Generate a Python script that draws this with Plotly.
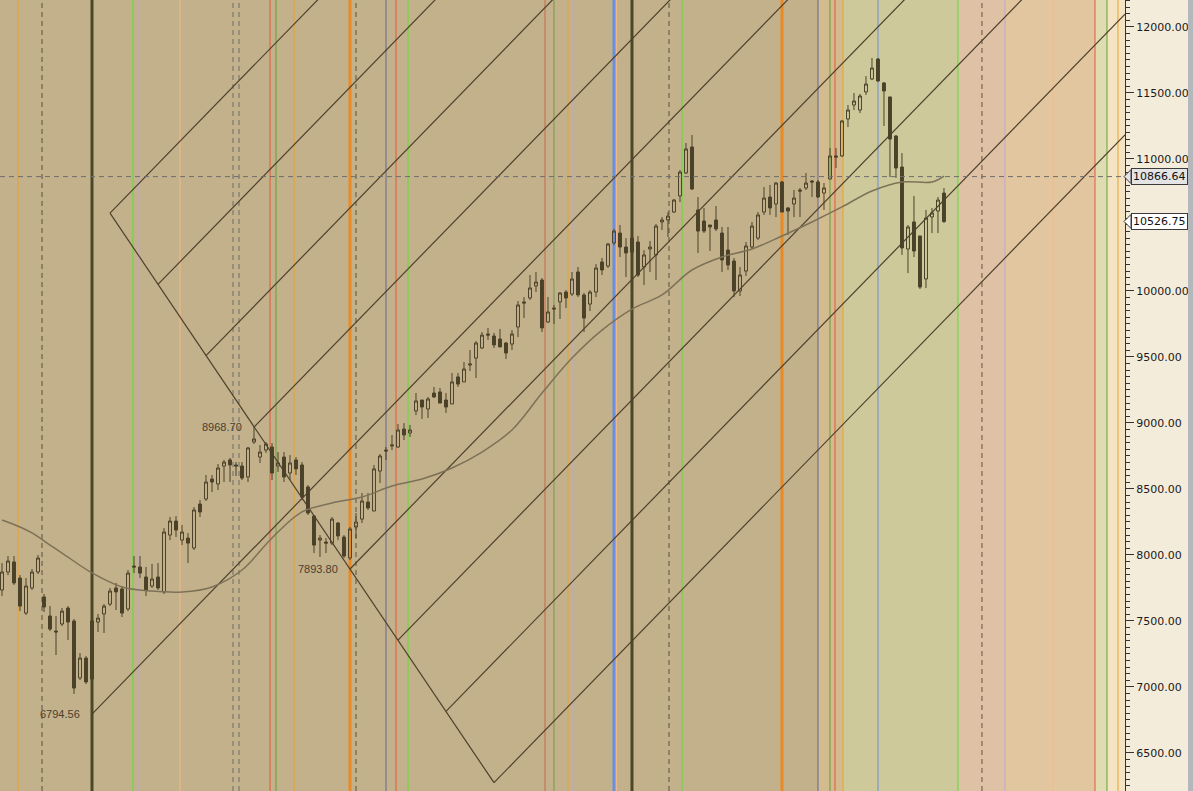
import plotly.graph_objects as go

# ---------------- data ----------------
opens = [7735,7871,7947,7825,7560,7750,7871,7682,7538,7424,
7477,7598,7500,7068,7219,7060,7492,7553,7628,7750,
7742,7591,7916,7909,7833,7765,7833,7720,8151,8257,
8113,8128,8053,8386,8424,8575,8538,8674,8720,8682,
8674,8591,8856,8742,8795,8818,8674,8742,8621,8720,
8682,8515,8295,8113,8098,8090,8242,8136,7977,8212,
8272,8401,8333,8636,8795,8826,8818,8954,8924,9091,
9174,9106,9227,9235,9174,9144,9349,9311,9439,9492,
9568,9674,9659,9636,9606,9598,9727,9917,9947,10038,
10083,9765,9871,9917,9992,9977,10144,9970,9901,9992,
10220,10189,10364,10439,10333,10295,10371,10182,10318,10273,
10523,10538,10598,10720,10894,11091,10614,10530,10500,10538,
10439,10310,10227,10000,10151,10333,10401,10598,10712,10659,
10826,10629,10659,10765,10780,10833,10826,10742,10848,11023,
11023,11303,11409,11371,11508,11606,11757,11576,11470,11174,
10939,10318,10523,10417,10091,10561,10606,10742]

highs = [7939,7992,7992,7848,7825,7894,8000,7705,7613,7538,
7598,7613,7515,7257,7235,7522,7553,7628,7750,7788,
7765,7886,7992,7992,7909,7932,7939,8204,8288,8295,
8227,8166,8363,8416,8606,8606,8689,8720,8735,8704,
8704,8818,8968.70,8833,8856,8848,8780,8780,8757,8742,
8704,8530,8303,8151,8128,8288,8250,8151,8212,8318,
8470,8470,8682,8765,8818,8909,8992,8999,8985,9227,
9174,9197,9273,9265,9227,9379,9379,9462,9553,9621,
9689,9720,9682,9712,9613,9704,9924,9954,10121,10144,
10098,9954,9894,9992,10007,10144,10182,9985,10007,10204,
10250,10364,10470,10500,10401,10416,10416,10310,10379,10508,
10560,10598,10697,10917,11121,11182,10712,10629,10500,10644,
10485,10485,10250,10182,10371,10523,10598,10788,10803,10826,
10833,10636,10765,10780,10894,10841,10841,10818,11083,11083,
11295,11409,11500,11493,11629,11765,11765,11583,11470,11182,
11045,10500,10720,10417,10614,10629,10712,10780]

lows = [7690,7848,7773,7575,7545,7735,7856,7568,7424,7242,
7462,7356,6947,7053,7022,7045,7417,7409,7613,7583,
7530,7575,7863,7825,7690,7750,7735,7705,8113,8136,
8075,7939,8038,8288,8409,8477,8492,8553,8553,8598,
8568,8553,8841,8697,8773,8568,8629,8553,8568,8606,
8416,8303,8015,7985,8015,8075,8113,7977,7962,8128,
8242,8341,8333,8545,8720,8795,8811,8871,8894,9060,
9030,9038,9189,9151,9076,9144,9273,9311,9394,9341,
9560,9629,9568,9576,9485,9553,9651,9795,9932,9992,
9689,9757,9750,9788,9871,9962,9954,9689,9848,9954,
10121,10174,10348,10257,10106,10265,10106,10045,10144,10083,
10462,10409,10591,10674,10886,10765,10288,10439,10303,10454,
10144,10159,9954,9962,10114,10318,10386,10576,10576,10560,
10598,10424,10560,10560,10765,10712,10704,10614,10848,10932,
11015,11242,11371,11348,11485,11598,11583,11250,10863,10856,
10273,10136,10257,10015,10022,10439,10439,10515]

closes = [7871,7954,7788,7613,7765,7871,7977,7606,7439,7417,
7575,7492,6992,7219,7038,7500,7522,7613,7727,7720,
7560,7863,7909,7863,7735,7818,7750,8174,8257,8189,
8174,8090,8341,8326,8553,8553,8659,8704,8682,8674,
8583,8811,8879,8780,8841,8621,8697,8591,8697,8652,
8439,8318,8075,8128,8090,8272,8144,7992,8197,8250,
8409,8356,8652,8750,8788,8833,8947,8909,8947,9167,
9121,9182,9197,9151,9121,9311,9295,9409,9447,9606,
9666,9666,9591,9576,9530,9674,9894,9909,10023,10068,
9720,9841,9864,9985,9947,10091,9970,9795,9992,10174,
10159,10356,10454,10333,10288,10401,10121,10273,10333,10492,
10538,10568,10689,10901,11076,10773,10454,10454,10485,10470,
10235,10197,10000,10121,10341,10492,10576,10704,10629,10818,
10598,10606,10704,10757,10818,10826,10712,10780,11023,11015,
11288,11371,11439,11477,11568,11689,11591,11515,11151,10932,
10326,10485,10303,10030,10553,10591,10689,10526.75]

bar_idx = list(range(len(closes)))

# moving average (read at selected bars)
ma_idx = [0,3,5,8,10,15,20,25,30,35,40,45,50,55,60,65,70,75,80,85,90,95,
          100,105,110,115,120,125,130,135,140,145,150,155,157]
ma_val = [8265,8212,8167,8075,8015,7864,7758,7727,7720,7758,7886,8129,8326,
          8394,8439,8523,8575,8659,8780,8947,9227,9492,9704,9863,9970,10159,
          10258,10318,10417,10523,10637,10758,10826,10826,10871]

# pivot labels
pivot_idx = [15, 42, 58]
pivot_val = [6794.56, 8968.70, 7893.80]
pivot_txt = ["6794.56", "8968.70", "7893.80"]

# fan geometry: descending line and parallel rising channel lines
down_line = [(18, 10590), (82, 6275)]
channel_starts = [(15, 6794.56), (18, 10590), (26, 10050), (34, 9510),
                  (42, 8968.70), (58, 7893.80), (66, 7355), (74, 6815),
                  (82, 6275)]
channel_slope = 46.67          # points per bar
x_right = 187.17               # right edge of plot in bar units

# horizontal reference level and last-price tags
ref_level = 10866.64
last_close = 10526.75

# axis tick labels (10500 hidden under the last-price tag)
tick_vals = [6500, 7000, 7500, 8000, 8500, 9000, 9500, 10000, 10500, 11000, 11500, 12000]
tick_text = ["6500.00", "7000.00", "7500.00", "8000.00", "8500.00", "9000.00", "9500.00",
             "10000.00", "", "11000.00", "11500.00", "12000.00"]

# vertical time lines (bar position, style)
vlines = [(2.67,"orange"),(6.67,"dash"),(15,"olive"),(21.83,"green"),(22.83,"lav"),
          (29.67,"peach"),(38.5,"dashg"),(39.5,"dashg"),(44.67,"red"),(45.67,"dgreen"),
          (48.67,"orange"),(58,"thickor"),(59,"dash"),(64,"slate"),(65.67,"red"),
          (67.67,"green"),(90.5,"mred"),(92,"mgreen"),(94.33,"orange"),(95,"lav"),
          (102,"bluethick"),(102.4,"peach"),(105,"olive"),(111.17,"dash"),(113.33,"green"),
          (130,"thickor"),(136,"slate"),(138,"dgreen"),(138.83,"red"),(140.17,"orange"),
          (146,"blue"),(159.33,"green"),(163.33,"dashb"),(167.17,"lav"),(175.17,"peach"),
          (182.17,"red"),(184.17,"dgreen"),(186,"orange")]

# background zones (start bar, end bar, colour)
zones = [(-1, 136, "#c3b18b"), (136, 140.17, "#d2bb8e"), (140.17, 159.33, "#cdc99b"),
         (159.33, 167.17, "#dfc1a6"), (167.17, 182.17, "#e2c69f"),
         (182.17, 184.17, "#dedcb0"), (184.17, 190, "#f4e4c4")]

# ---------------- styles ----------------
vstyle = {
    "orange": dict(color="#eaa22a", width=1),
    "dash": dict(color="#5a5040", width=1, dash="5px,4px"),
    "dashg": dict(color="#6a6a6a", width=1, dash="5px,4px"),
    "dashb": dict(color="#6a5040", width=1, dash="5px,4px"),
    "olive": dict(color="#4a4828", width=3),
    "green": dict(color="#52e62e", width=1),
    "lav": dict(color="#bca8d0", width=1),
    "peach": dict(color="#f8b888", width=1),
    "red": dict(color="#e6583a", width=1),
    "mred": dict(color="#c46a48", width=1),
    "dgreen": dict(color="#64a03a", width=1),
    "mgreen": dict(color="#749a48", width=1),
    "thickor": dict(color="#ea8a26", width=3),
    "slate": dict(color="#66669a", width=1),
    "bluethick": dict(color="#6890dc", width=3),
    "blue": dict(color="#6890dc", width=1),
}
CANDLE = "#4b4229"
DIAG = "#4e412c"

fig = go.Figure()

shapes = []
for x0, x1, col in zones:
    shapes.append(dict(type="rect", xref="x", yref="paper", x0=x0, x1=x1, y0=0, y1=1,
                       fillcolor=col, line=dict(width=0), layer="below"))
for xv, st in vlines:
    shapes.append(dict(type="line", xref="x", yref="paper", x0=xv, x1=xv, y0=0, y1=1,
                       line=vstyle[st], layer="below"))
# horizontal reference level
shapes.append(dict(type="line", xref="paper", yref="y", x0=0, x1=1, y0=ref_level, y1=ref_level,
                   line=dict(color="#6e6e6e", width=1, dash="5px,4px"), layer="above"))

# descending line
fig.add_trace(go.Scatter(x=[down_line[0][0], down_line[1][0]],
                         y=[down_line[0][1], down_line[1][1]],
                         mode="lines", line=dict(color=DIAG, width=1.2), hoverinfo="skip"))
# rising channel lines
for sx, sy in channel_starts:
    fig.add_trace(go.Scatter(x=[sx, x_right], y=[sy, sy + channel_slope * (x_right - sx)],
                             mode="lines", line=dict(color=DIAG, width=1.2), hoverinfo="skip"))

# moving average
fig.add_trace(go.Scatter(x=ma_idx, y=ma_val, mode="lines", line=dict(color="#7d7257", width=1.5),
                         line_shape="spline", hoverinfo="skip"))

# candles
fig.add_trace(go.Candlestick(
    x=bar_idx, open=opens, high=highs, low=lows, close=closes,
    increasing=dict(line=dict(color=CANDLE, width=1), fillcolor="rgba(0,0,0,0)"),
    decreasing=dict(line=dict(color=CANDLE, width=1), fillcolor=CANDLE),
    whiskerwidth=0))

annotations = []
# pivot labels
for px_, pv, pt in zip(pivot_idx, pivot_val, pivot_txt):
    annotations.append(dict(x=px_, y=pv, xref="x", yref="y", text=pt, showarrow=False,
                            xanchor="right", yanchor="middle", xshift=-10,
                            font=dict(family="Liberation Sans, Arial", size=11, color="#4a4030")))

# price tags on the axis
plot_w = 1125.0
for val, bg in [(ref_level, "#e4e4e4"), (last_close, "#ffffff")]:
    annotations.append(dict(x=1 + 6 / plot_w, y=val, xref="paper", yref="y",
                            text=f"{val:.2f}", showarrow=False, xanchor="left", yanchor="middle",
                            bgcolor=bg, bordercolor="#3a3a3a", borderwidth=1, borderpad=1,
                            font=dict(family="DejaVu Sans", size=11, color="#111111")))
    h = 7 * 7.576
    tip = 1 - 1 / plot_w
    base = 1 + 6 / plot_w
    shapes.append(dict(type="path", xref="paper", yref="y",
                       path=f"M {tip},{val} L {base},{val + h} L {base},{val - h} Z",
                       fillcolor=bg, line=dict(color="#3a3a3a", width=1), layer="above"))

# right window border
shapes.append(dict(type="rect", xref="paper", yref="paper", x0=1188 / plot_w, x1=1193 / plot_w,
                   y0=0, y1=1, fillcolor="#b4b8bc", line=dict(width=0), layer="above"))

fig.update_layout(
    width=1193, height=791, autosize=False,
    margin=dict(l=0, r=68, t=0, b=0, pad=0),
    paper_bgcolor="#f4ecda", plot_bgcolor="#c3b18b",
    showlegend=False,
    shapes=shapes, annotations=annotations,
    xaxis=dict(range=[-1 / 3, x_right], visible=False, rangeslider=dict(visible=False),
               fixedrange=True),
    yaxis=dict(range=[6212, 12204.5], side="right", showgrid=False, zeroline=False,
               tickmode="array", tickvals=tick_vals, ticktext=tick_text,
               ticks="outside", ticklen=8,
               tickcolor="#333333", showline=True, linecolor="#333333", linewidth=1,
               tickfont=dict(family="DejaVu Sans", size=11, color="#1a1a1a"),
               minor=dict(tickmode="linear", tick0=0, dtick=50, ticks="outside", ticklen=4,
                          tickcolor="#333333"),
               fixedrange=True),
)

fig.write_html("out.html", config={"displayModeBar": False},
               post_script="document.body.style.margin='0';document.body.style.overflow='hidden';")
